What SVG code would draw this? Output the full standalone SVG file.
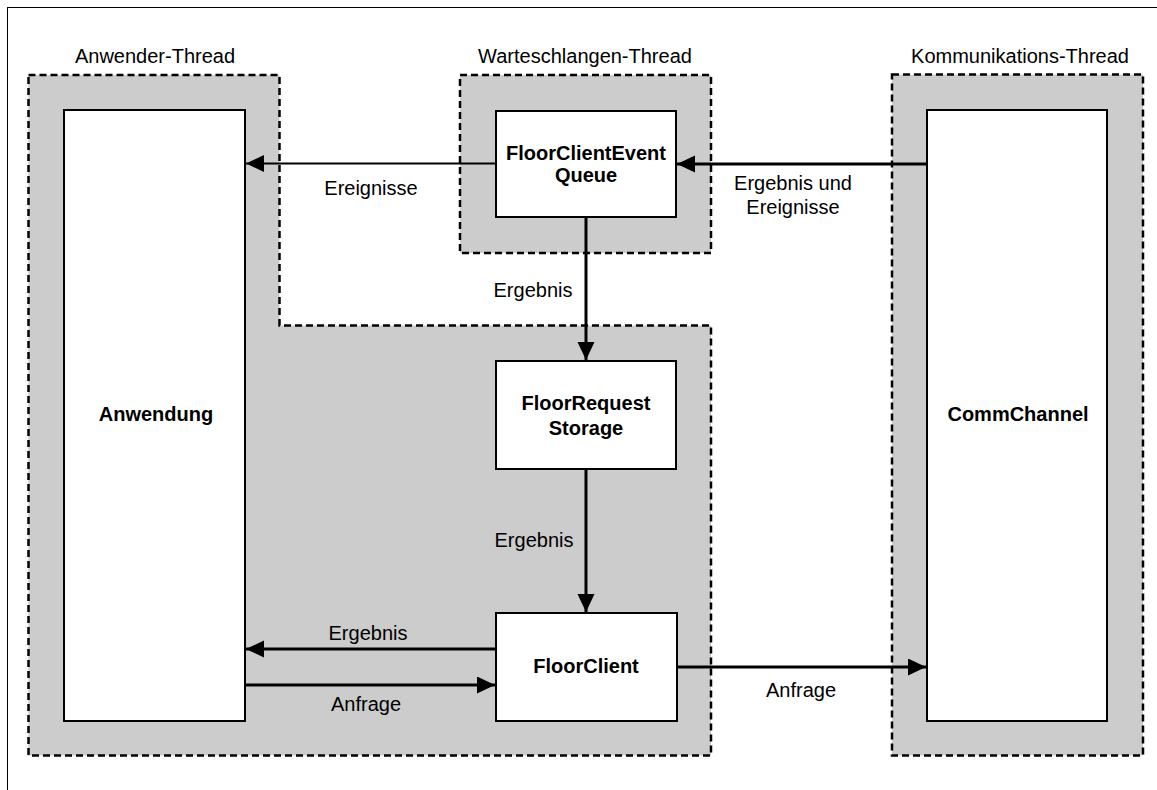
<svg xmlns="http://www.w3.org/2000/svg" width="1157" height="790" viewBox="0 0 1157 790">
  <style>
    .thread { fill: #cccccc; stroke: #000; stroke-width: 2.5; stroke-dasharray: 7 4; }
    .box { fill: #fff; stroke: #000; stroke-width: 2; }
    .lbl { font-family: "Liberation Sans", Arial, sans-serif; font-size: 20px; fill: #000; text-anchor: middle; }
    .name { font-family: "Liberation Sans", Arial, sans-serif; font-size: 20px; font-weight: bold; fill: #000; text-anchor: middle; }
    .conn { fill: none; stroke: #000; stroke-width: 3; }
    .thin { stroke-width: 1.8; }
  </style>
  <defs>
    <marker id="head" markerUnits="userSpaceOnUse" markerWidth="20" markerHeight="18" refX="18" refY="8.5" orient="auto">
      <path d="M0,0 L18,8.5 L0,17 Z" fill="#000"/>
    </marker>
  </defs>

  <rect width="1157" height="790" fill="#fff"/>
  <!-- outer frame -->
  <rect x="7.5" y="7.5" width="1160" height="800" fill="none" stroke="#000" stroke-width="1"/>

  <!-- thread areas -->
  <g id="anwender-thread">
    <path class="thread" d="M28.5,75 H279.5 V325.5 H711 V755.5 H28.5 Z"/>
    <text class="lbl" x="155" y="63">Anwender-Thread</text>
  </g>
  <g id="warteschlangen-thread">
    <rect class="thread" x="460" y="75" width="251" height="178"/>
    <text class="lbl" x="585" y="63">Warteschlangen-Thread</text>
  </g>
  <g id="kommunikations-thread">
    <rect class="thread" x="892" y="74.5" width="251" height="681"/>
    <text class="lbl" x="1020" y="63">Kommunikations-Thread</text>
  </g>

  <!-- components -->
  <g id="anwendung">
    <rect class="box" x="64" y="110" width="181" height="611"/>
    <text class="name" x="156" y="421">Anwendung</text>
  </g>
  <g id="floorclienteventqueue">
    <rect class="box" x="496" y="111" width="180" height="106"/>
    <text class="name" x="586" y="160">FloorClientEvent</text>
    <text class="name" x="586" y="182">Queue</text>
  </g>
  <g id="floorrequeststorage">
    <rect class="box" x="496" y="361" width="180" height="108"/>
    <text class="name" x="586" y="410">FloorRequest</text>
    <text class="name" x="586" y="435">Storage</text>
  </g>
  <g id="floorclient">
    <rect class="box" x="496" y="613" width="181" height="108"/>
    <text class="name" x="586" y="673">FloorClient</text>
  </g>
  <g id="commchannel">
    <rect class="box" x="927" y="110" width="180" height="611"/>
    <text class="name" x="1018" y="421">CommChannel</text>
  </g>

  <!-- connectors -->
  <g id="connectors">
    <line class="conn thin" x1="496" y1="163.5" x2="246" y2="163.5" marker-end="url(#head)"/>
    <line class="conn" x1="927" y1="164" x2="677" y2="164" marker-end="url(#head)"/>
    <line class="conn" x1="586" y1="217" x2="586" y2="360" marker-end="url(#head)"/>
    <line class="conn" x1="586" y1="469" x2="586" y2="612" marker-end="url(#head)"/>
    <line class="conn" x1="496" y1="649" x2="246" y2="649" marker-end="url(#head)"/>
    <line class="conn" x1="245" y1="685" x2="495" y2="685" marker-end="url(#head)"/>
    <line class="conn" x1="677" y1="667" x2="926" y2="667" marker-end="url(#head)"/>

    <text class="lbl" x="371" y="195">Ereignisse</text>
    <text class="lbl" x="793" y="190">Ergebnis und</text>
    <text class="lbl" x="793" y="214">Ereignisse</text>
    <text class="lbl" x="533" y="297">Ergebnis</text>
    <text class="lbl" x="534" y="547">Ergebnis</text>
    <text class="lbl" x="368" y="640">Ergebnis</text>
    <text class="lbl" x="366" y="711">Anfrage</text>
    <text class="lbl" x="801" y="697">Anfrage</text>
  </g>
</svg>
